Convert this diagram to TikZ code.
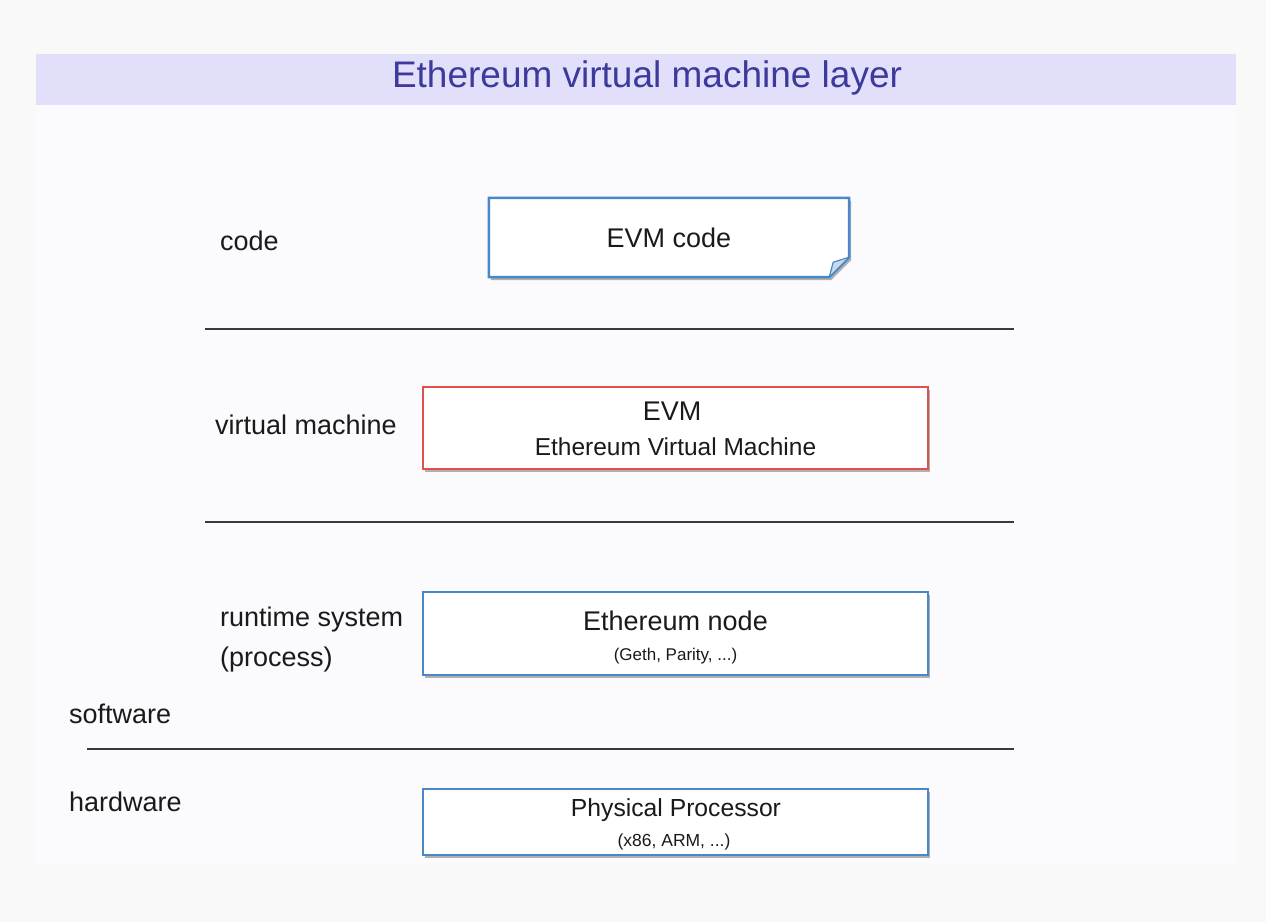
\documentclass[tikz,border=0pt]{standalone}
\usepackage{fontspec}
\setmainfont{Liberation Sans}
\usetikzlibrary{shadows}
\definecolor{pagebg}{HTML}{F9F9FA}
\definecolor{slidebg}{HTML}{FBFBFE}
\definecolor{titlebg}{HTML}{E2DFFB}
\definecolor{titlefg}{HTML}{3C3A9A}
\definecolor{boxblue}{HTML}{4A87C9}
\definecolor{boxred}{HTML}{E34F4B}
\definecolor{foldblue}{HTML}{C8D7EC}
\definecolor{rulegray}{HTML}{3A3A3A}
\definecolor{txt}{HTML}{1A1A1A}
\tikzset{
  shad/.style={drop shadow={shadow xshift=2pt,shadow yshift=-3pt,fill=black!55,opacity=0.55}},
  layerbox/.style={draw=boxblue,line width=2.5pt,fill=white,shad,minimum width=505pt,inner sep=0pt,align=center,text=txt},
  redbox/.style={layerbox,draw=boxred},
  lbl/.style={anchor=west,inner sep=0pt,text=txt,font=\fontsize{27}{40}\selectfont,align=left},
  sep/.style={draw=rulegray,line width=1.5pt},
  big/.style={font=\fontsize{27}{32}\selectfont},
}
\begin{document}
\begin{tikzpicture}[x=1pt,y=-1pt]
\fill[pagebg] (0,0) rectangle (1266,922);
\useasboundingbox (0,0) rectangle (1266,922);
\fill[slidebg] (36,54) rectangle (1236,863);
\fill[titlebg] (36,54) rectangle (1236,105);
\node[text=titlefg,font=\fontsize{37}{40}\selectfont,inner sep=0pt] (title) at (647,78) {Ethereum virtual machine layer};

% EVM code with folded corner
\node[minimum width=360pt,minimum height=79pt,inner sep=0pt] (evmcode) at (669,237.5) {};
\path[draw=boxblue,line width=2.5pt,fill=white,shad]
  (evmcode.north west) -- (evmcode.north east) -- ([yshift=20pt]evmcode.south east)
  -- ([xshift=-20pt]evmcode.south east) -- (evmcode.south west) -- cycle;
\node[inner sep=0pt,text=txt,font=\fontsize{27}{32}\selectfont] (evmcodet) at (evmcode.center) {EVM code};
\fill[foldblue,draw=boxblue,line width=1.2pt,line join=round]
  ([yshift=20pt]evmcode.south east) -- ([xshift=-16pt,yshift=15pt]evmcode.south east)
  -- ([xshift=-20pt]evmcode.south east) -- cycle;

% EVM
\node[redbox,minimum height=82pt] (evm) at (675.5,428) {};
\node[big,text=txt,inner sep=0pt] (evmt) at (672,411) {EVM};
\node[text=txt,inner sep=0pt,font=\fontsize{24.5}{28}\selectfont] (evms) at (675.5,447) {Ethereum Virtual Machine};

% Ethereum node
\node[layerbox,minimum height=83pt] (node) at (675.5,633.5) {};
\node[big,text=txt,inner sep=0pt] (nodet) at (675.5,621) {Ethereum node};
\node[text=txt,inner sep=0pt,font=\fontsize{17}{20}\selectfont] (nodes) at (675.5,656) {(Geth, Parity, ...)};

% Physical processor
\node[layerbox,minimum height=66pt] (cpu) at (675.5,822) {};
\node[text=txt,inner sep=0pt,font=\fontsize{24.7}{28}\selectfont] (cput) at (676,810) {Physical Processor};
\node[text=txt,inner sep=0pt,font=\fontsize{17.5}{20}\selectfont] (cpus) at (674,842) {(x86, ARM, ...)};

% separators
\coordinate (s1a) at (205,329); \coordinate (s1b) at (1014,329);
\coordinate (s2a) at (205,522); \coordinate (s2b) at (1014,522);
\coordinate (s3a) at (87,749);  \coordinate (s3b) at (1014,749);
\draw[sep] (s1a) -- (s1b);
\draw[sep] (s2a) -- (s2b);
\draw[sep] (s3a) -- (s3b);

% labels
\node[lbl] (lcode) at (220,241) {code};
\node[lbl] (lvm) at (215,425) {virtual machine};
\node[lbl] (lrt) at (220,640) {runtime system\\(process)};
\node[lbl] (lsw) at (69,714) {software};
\node[lbl] (lhw) at (69,802) {hardware};
\end{tikzpicture}
\end{document}
